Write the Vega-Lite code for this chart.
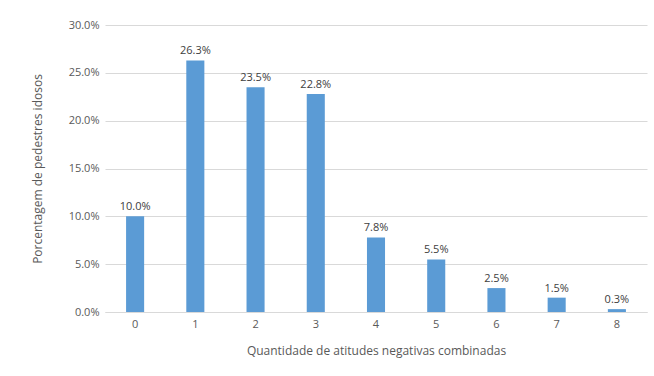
{
  "$schema": "https://vega.github.io/schema/vega-lite/v6.json",
  "width": 542,
  "height": 287,
  "autosize": {"type": "none"},
  "padding": {"left": 105, "top": 25, "right": 7, "bottom": 64},
  "background": "white",
  "config": {
    "view": {"stroke": null},
    "font": "Open Sans",
    "axis": {"labelColor": "#595959", "titleColor": "#595959", "labelFontSize": 11, "titleFontSize": 12, "titleFontWeight": "normal", "domain": false, "ticks": false, "gridColor": "#D9D9D9"}
  },
  "data": {"values": [
    {"q": "0", "p": 0.100},
    {"q": "1", "p": 0.263},
    {"q": "2", "p": 0.235},
    {"q": "3", "p": 0.228},
    {"q": "4", "p": 0.078},
    {"q": "5", "p": 0.055},
    {"q": "6", "p": 0.025},
    {"q": "7", "p": 0.015},
    {"q": "8", "p": 0.003}
  ]},
  "encoding": {
    "x": {"field": "q", "type": "ordinal", "sort": null, "scale": {"paddingInner": 0.7, "paddingOuter": 0.35}, "axis": {"labelAngle": 0, "title": "Quantidade de atitudes negativas combinadas", "titlePadding": 16, "labelPadding": 6, "domain": true, "domainColor": "#D9D9D9"}},
    "y": {"field": "p", "type": "quantitative", "scale": {"domain": [0, 0.3]}, "axis": {"format": ".1%", "values": [0, 0.05, 0.1, 0.15, 0.2, 0.25, 0.3], "labelOverlap": false, "title": "Porcentagem de pedestres idosos", "titlePadding": 24, "labelPadding": 6}}
  },
  "layer": [
    {"mark": {"type": "bar", "color": "#5B9BD5"}},
    {"mark": {"type": "text", "dy": -9, "color": "#404040", "fontSize": 11}, "encoding": {"text": {"field": "p", "type": "quantitative", "format": ".1%"}}}
  ]
}
